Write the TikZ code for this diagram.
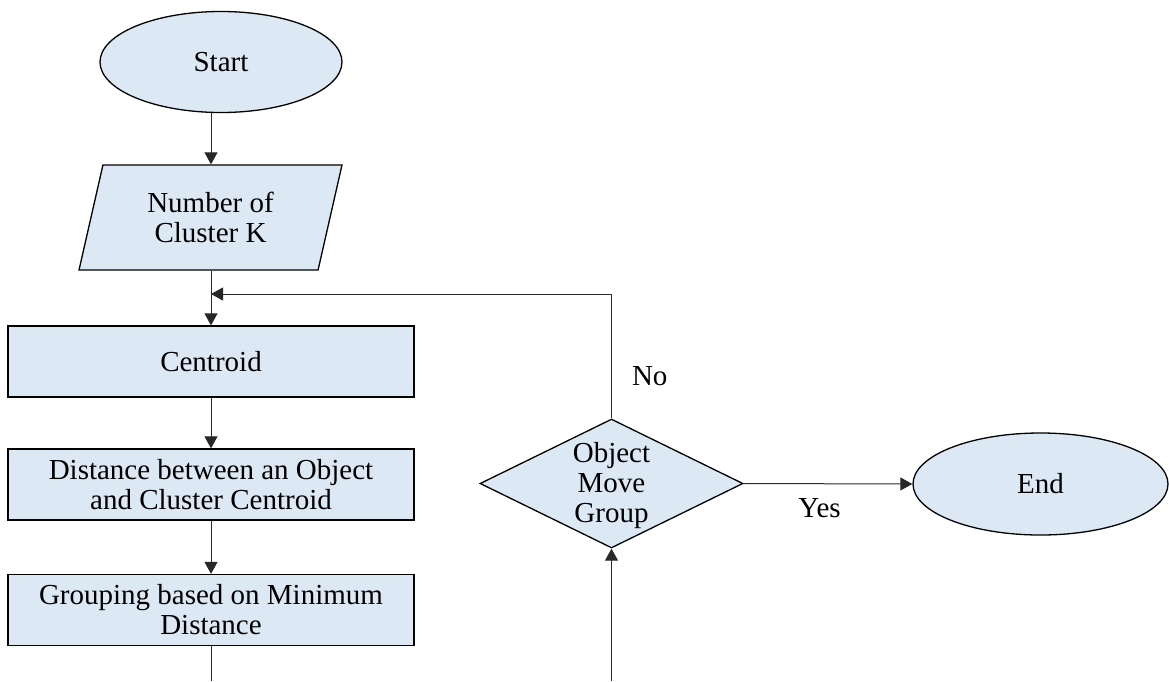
\documentclass[tikz,border=0pt]{standalone}
\usepackage{fontspec}
\setmainfont{Liberation Serif}
\usetikzlibrary{shapes.geometric,arrows.meta}
\definecolor{boxfill}{RGB}{221,232,245}
\definecolor{linegray}{RGB}{40,40,40}
\begin{document}
\begin{tikzpicture}[x=1pt,y=-1pt,
      every node/.style={font=\fontsize{29}{30}\selectfont,align=center},
      block/.style={draw,fill=boxfill,line width=1.3pt,inner sep=0pt},
      term/.style={block,ellipse},
      io/.style={block,trapezium,trapezium left angle=74.5,
        trapezium right angle=105.5,trapezium stretches=true},
      proc/.style={block,rectangle,minimum width=406pt,minimum height=71pt},
      decide/.style={block,diamond},
      arr/.style={draw=linegray,line width=1pt,-{Triangle[length=12pt,width=13pt]}},
      ln/.style={draw=linegray,line width=1pt},
      lbl/.style={inner sep=2pt}]
      \useasboundingbox (0,0) rectangle (1169,681);
      \node[term,minimum width=242pt,minimum height=101pt] (start) at (221,62) {Start};
      \node[io,minimum width=263pt,minimum height=105pt] (param) at (210.5,217.5) {Number of\\Cluster K};
      \node[proc] (cen) at (211,361.5) {Centroid};
      \node[proc] (dist) at (211,484.5) {Distance between an Object\\and Cluster Centroid};
      \node[proc] (grp) at (211,610) {Grouping based on Minimum\\Distance};
      \node[decide,minimum width=263pt,minimum height=129pt] (dec) at (611.5,483.5) {};
      \node (dectext) at (611.5,485.5) {Object\\Move\\Group};
      \node[term,minimum width=255pt,minimum height=102pt] (fin) at (1040.5,484) {End};
      \coordinate (merge) at (211,294);
      \coordinate (grpout) at (211,681);
      \coordinate (decin) at (611.5,681);
      \draw[arr] (start.south -| cen) -- (param.north -| cen);
      \draw[arr] (param.south -| cen) -- (cen.north);
      \draw[arr] (cen.south) -- (dist.north);
      \draw[arr] (dist.south) -- (grp.north);
      \draw[ln] (grp.south) -- (grpout);
      \draw[arr] (decin) -- (dec.south);
      \draw[arr] (dec.east) -- node[lbl,below=12pt,pos=0.45] (yes) {Yes} (fin.west);
      \draw[arr] (dec.north) |- node[lbl,right,pos=0.17,xshift=18pt] (no) {No} (merge);
    \end{tikzpicture}
\end{document}
